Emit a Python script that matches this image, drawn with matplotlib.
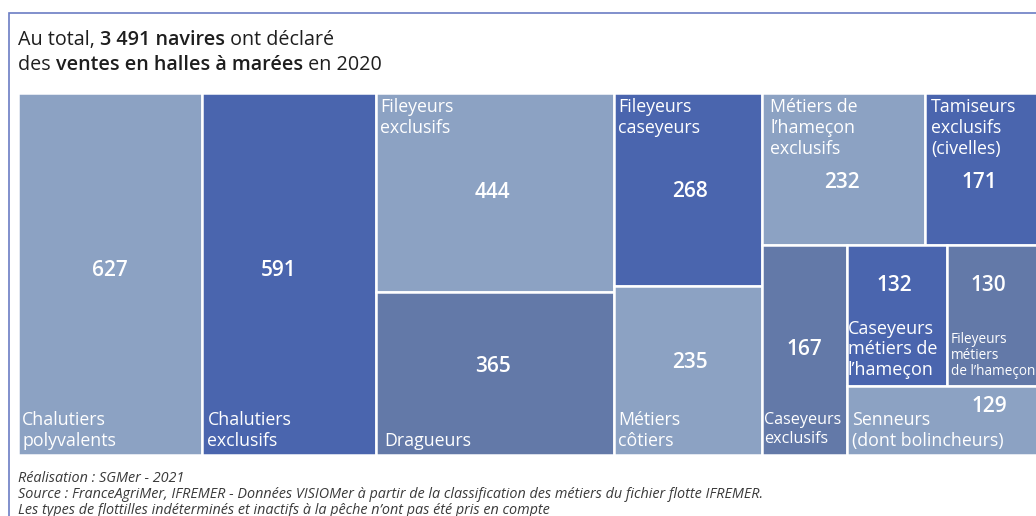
import matplotlib.pyplot as plt
from matplotlib.patches import Rectangle

plt.rcParams['font.family'] = ['Open Sans', 'DejaVu Sans']

# Nombre de navires par type de flottille
flottilles = ['Chalutiers\npolyvalents', 'Chalutiers\nexclusifs', 'Fileyeurs\nexclusifs',
              'Dragueurs', 'Fileyeurs\ncaseyeurs', 'Métiers\ncôtiers',
              'Métiers de\nl’hameçon\nexclusifs', 'Tamiseurs\nexclusifs\n(civelles)',
              'Caseyeurs\nexclusifs', 'Caseyeurs\nmétiers de\nl’hameçon',
              'Fileyeurs\nmétiers\nde l’hameçon', 'Senneurs\n(dont bolincheurs)']
navires = [627, 591, 444, 365, 268, 235, 232, 171, 167, 132, 130, 129]

# découpage du treemap : 'h' = côte à côte, 'v' = empilé
decoupage = ('h', [0, 1, ('v', [2, 3]), ('v', [4, 5]),
                   ('v', [('h', [6, 7]),
                          ('h', [8, ('v', [('h', [9, 10]), 11])])])])

CLAIR, FONCE, MOYEN = '#8ca2c3', '#4a65ae', '#6379a8'
couleurs = [CLAIR, FONCE, CLAIR, MOYEN, FONCE, CLAIR, CLAIR, FONCE, MOYEN, FONCE, MOYEN, CLAIR]

# position du nombre dans la case (fraction largeur, fraction hauteur depuis le haut)
pos_valeur = [(0.50, 0.49), (0.44, 0.49), (0.49, 0.50), (0.49, 0.46), (0.51, 0.51),
              (0.51, 0.455), (0.49, 0.59), (0.45, 0.59), (0.50, 0.50), (0.47, 0.29),
              (0.42, 0.29), (0.72, 0.30)]
# libellé : (haut/bas, décalage x, taille, interligne, ligne de base depuis le bord) en px
pos_libelle = [('b', 4, 12.8, 21, 9), ('b', 5, 12.8, 21, 9), ('t', 4, 12.8, 21, 19),
               ('b', 8, 12.8, 21, 9), ('t', 4, 12.8, 21, 19), ('b', 4, 12.8, 21, 9),
               ('t', 8, 12.8, 21, 19), ('t', 6, 12.8, 21, 19), ('b', 2, 11.6, 19, 12),
               ('b', 1, 13, 20.5, 11), ('b', 4, 9.8, 16, 11), ('b', 5, 12.8, 21, 9)]


def total(node):
    if isinstance(node, int):
        return navires[node]
    return sum(total(n) for n in node[1])


def place(node, x, y, w, h, out):
    if isinstance(node, int):
        out[node] = (x, y, w, h)
        return
    sens, enfants = node
    t = total(node)
    for n in enfants:
        part = total(n) / t
        if sens == 'h':
            place(n, x, y, w * part, h, out)
            x += w * part
        else:
            place(n, x, y, w, h * part, out)
            y += h * part


W, H = 1036, 516
fig = plt.figure(figsize=(W / 100, H / 100), dpi=100)

tot = sum(navires)
ax = fig.add_axes([18 / W, (H - 455) / H, 1027 / W, 362 / H])
ax.set_xlim(0, tot)
ax.set_ylim(1, 0)
ax.axis('off')

cases = {}
place(decoupage, 0, 0, tot, 1, cases)

for i, (x, y, w, h) in cases.items():
    ax.add_patch(Rectangle((x, y), w, h, facecolor=couleurs[i], edgecolor='white', lw=1.8))
    fx, fy = pos_valeur[i]
    ax.text(x + w * fx, y + h * fy, str(navires[i]), color='white', fontsize=15,
            fontweight='semibold', ha='center', va='center')

    # une ligne de libellé à la fois, depuis le haut ou le bas de la case
    ancre, dx, taille, pas, base = pos_libelle[i]
    lignes = flottilles[i].split('\n')
    n = len(lignes)
    for k, txt in enumerate(lignes):
        if ancre == 't':
            ref, dy = (x, y), -(base + k * pas)
        else:
            ref, dy = (x, y + h), base + (n - 1 - k) * pas
        ax.annotate(txt, ref, xytext=(dx, dy), textcoords='offset pixels',
                    color='white', fontsize=taille, ha='left', va='baseline')

# cadre
fig.add_artist(Rectangle((9 / W, -0.1), 1.1, 1.1 - 13 / H, transform=fig.transFigure,
                         fill=False, edgecolor='#6b7dc4', lw=1.2))

# titre avec passages en gras
renderer = fig.canvas.get_renderer()


def ligne(morceaux, y):
    x = 18
    for txt, gras in morceaux:
        t = fig.text(x / W, 1 - y / H, txt, fontsize=14.2, color='#1e1e1e',
                     fontweight='semibold' if gras else 'normal', va='baseline')
        x += t.get_window_extent(renderer).width


ligne([('Au total, ', False), ('3 491 navires', True), (' ont déclaré', False)], 45)
ligne([('des ', False), ('ventes en halles à marées', True), (' en 2020', False)], 70)

notes = ['Réalisation : SGMer - 2021',
         'Source : FranceAgriMer, IFREMER - Données VISIOMer à partir de la classification '
         'des métiers du fichier flotte IFREMER.',
         'Les types de flottilles indéterminés et inactifs à la pêche n’ont pas été pris en compte']
for k, n in enumerate(notes):
    fig.text(18 / W, 1 - (482 + 16 * k) / H, n, fontsize=10.4, style='italic',
             color='#3a3a3a', va='baseline')

fig.savefig('out.png', dpi=100)
